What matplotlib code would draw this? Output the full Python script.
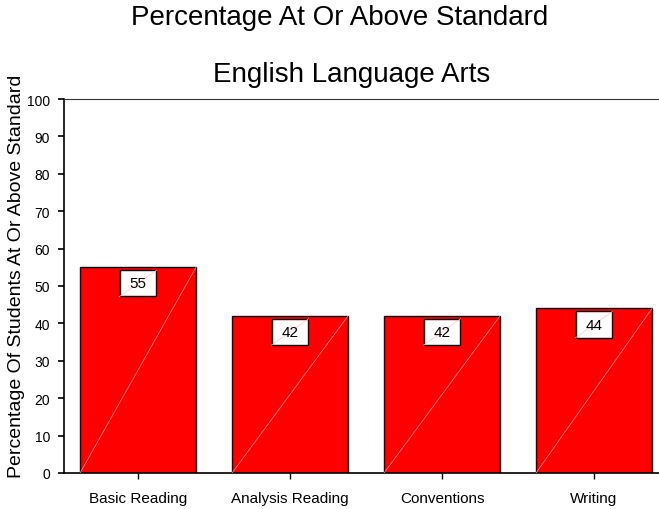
import numpy as np
import matplotlib.pyplot as plt
from matplotlib.patches import Rectangle

plt.rcParams['font.family'] = ['Liberation Sans', 'DejaVu Sans']

categories = ['Basic Reading', 'Analysis Reading', 'Conventions', 'Writing']
pct_at_or_above = [55, 42, 42, 44]
y_ticks = [0, 10, 20, 30, 40, 50, 60, 70, 80, 90, 100]

fig = plt.figure(figsize=(6.59, 5.10), dpi=100)
ax = fig.add_axes([64 / 659, 36 / 510, 595 / 659, 374 / 510])

x = np.arange(len(categories))
width = 0.763
ax.bar(x, pct_at_or_above, width=width, color='#ff0000', edgecolor='black', linewidth=1.0, zorder=2)

# thin light diagonal across each bar, and the value box near the top
for xi, v in zip(x, pct_at_or_above):
    ax.plot([xi - width / 2, xi + width / 2], [0, v], color='#ff9a9a', lw=0.5, zorder=3)
    bw, bh = 0.243, 7.0
    box = Rectangle((xi - bw / 2, v - 0.8 - bh), bw, bh, facecolor='white', edgecolor='black', lw=1.0, zorder=4)
    ax.add_patch(box)
    ax.plot([xi - bw / 2, xi + bw / 2], [v - 0.8 - bh, v - 0.8], color='#ffc8c8', lw=0.5, zorder=5)
    ax.text(xi, v - 0.8 - bh / 2, str(v), ha='center', va='center', fontsize=11, zorder=6)

ax.set_xlim(-0.487, -0.487 + 595 / 152)
ax.set_ylim(0, 100)
ax.set_yticks(y_ticks)
ax.set_xticks(x)
ax.set_xticklabels(categories, fontsize=11)
ax.tick_params(axis='y', labelsize=10, length=4.5, width=1.2, pad=5.5)
ax.tick_params(axis='x', length=4, width=1.0, pad=9)
ax.spines['right'].set_visible(False)
ax.spines['left'].set_linewidth(1.2)
ax.spines['bottom'].set_linewidth(1.2)
ax.spines['top'].set_color('#333333')

fig.text(340 / 659, 1 - 25 / 510, 'Percentage At Or Above Standard', ha='center', va='baseline', fontsize=20)
fig.text(352 / 659, 1 - 82 / 510, 'English Language Arts', ha='center', va='baseline', fontsize=20)
fig.text(17 / 659, 1 - 276 / 510, 'Percentage Of Students At Or Above Standard', rotation=90,
         ha='center', va='center', fontsize=14)

fig.savefig('out.png', dpi=100)
